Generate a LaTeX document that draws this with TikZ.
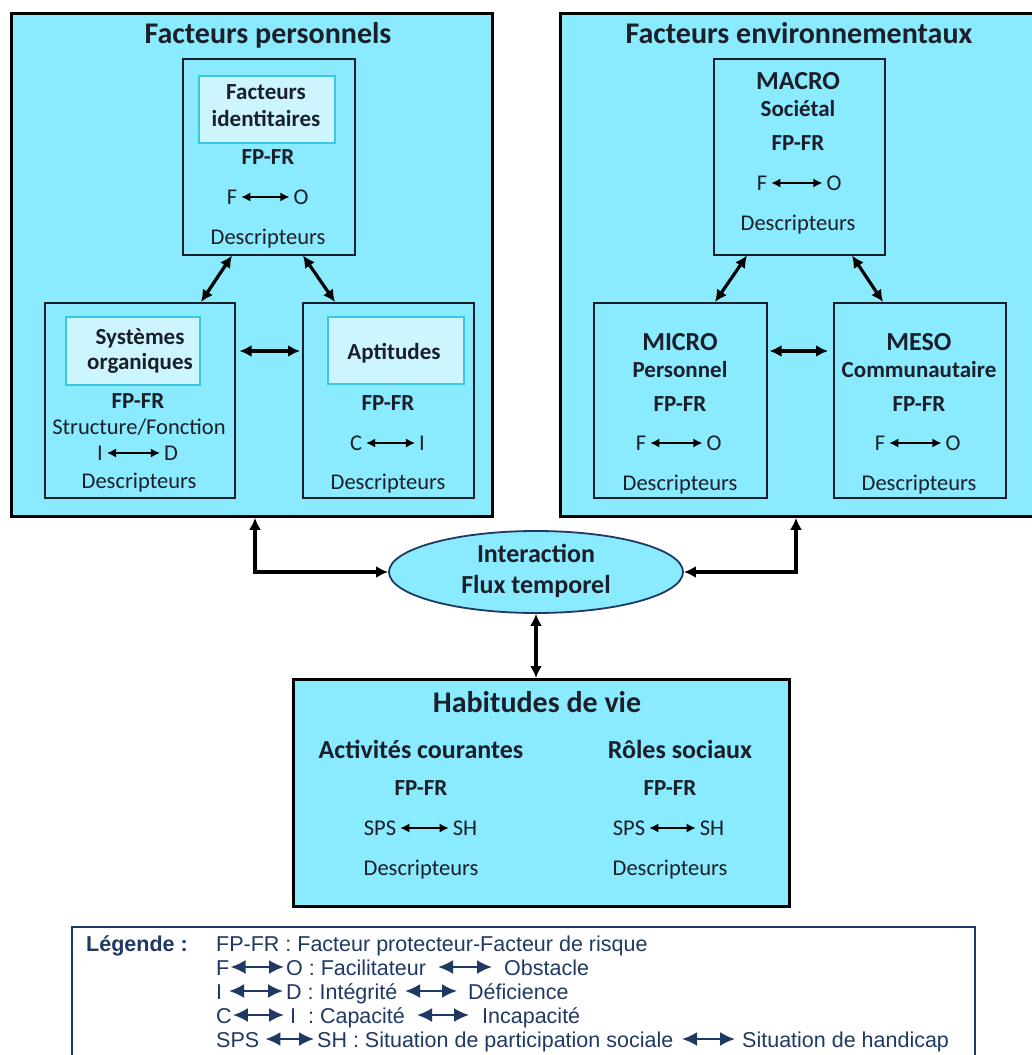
\documentclass[tikz,border=0pt]{standalone}
\usepackage{fontspec}
\setmainfont{Carlito}
\newfontfamily\legfont{Liberation Sans}
\usetikzlibrary{arrows.meta,calc,shadows,shapes.geometric}
\definecolor{cyanfill}{HTML}{8AEAFE}
\definecolor{lightfill}{HTML}{CCF5FE}
\definecolor{lightborder}{HTML}{3CC6E6}
\definecolor{ink}{HTML}{1B1F2A}
\definecolor{navy}{HTML}{1F3864}
\begin{document}
\begin{tikzpicture}[x=1pt,y=-1pt,
 bigbox/.style={draw=black, line width=2.8pt, fill=cyanfill, anchor=north west, inner sep=0pt,
   drop shadow={shadow xshift=2pt,shadow yshift=-2pt,opacity=0.35}},
 subbox/.style={draw=ink, line width=1.5pt, fill=cyanfill, anchor=north west, inner sep=0pt},
 lightbox/.style={draw=lightborder, line width=1.7pt, fill=lightfill, anchor=north west, inner sep=0pt},
 txt/.style={inner sep=0pt, text height=14.5pt, text depth=0pt, text=ink, font=\fontsize{22.5}{27}\selectfont},
 btxt/.style={txt, text height=14.8pt, font=\fontsize{23}{27}\selectfont\bfseries},
 ttl/.style={txt, text height=19.3pt, font=\fontsize{30}{36}\selectfont\bfseries},
 hdr/.style={txt, text height=16.7pt, font=\fontsize{26}{30}\selectfont\bfseries},
 ends/.style={txt, inner xsep=4pt},
 sarr/.style={draw=black, line width=1.4pt, {Latex[length=9pt,width=9pt]}-{Latex[length=9pt,width=9pt]}},
 bigarr/.style={draw=black, line width=3.2pt, {Latex[length=12pt,width=12pt]}-{Latex[length=12pt,width=12pt]}},
 leg/.style={inner sep=0pt, anchor=base west, text=navy, font=\legfont\fontsize{21.5}{24}\selectfont},
 legb/.style={leg, font=\legfont\bfseries\fontsize{21.5}{24}\selectfont},
 legarr/.style={draw=navy, line width=2.2pt, {Latex[length=15pt,width=14pt]}-{Latex[length=15pt,width=14pt]}},
]
\useasboundingbox[fill=white] (0,0) rectangle (1031,1055);

% ---------- big boxes ----------
\node[bigbox, minimum width=481pt, minimum height=503pt] (PF) at (10,12) {};
\node[bigbox, minimum width=482pt, minimum height=503pt] (EF) at (559,12) {};
\node[ttl] (PFt) at (268,34) {Facteurs personnels};
\node[ttl] (EFt) at (799,34) {Facteurs environnementaux};

% ---------- Facteurs identitaires ----------
\node[subbox, minimum width=172pt, minimum height=196pt] (FI) at (182,58) {};
\node[lightbox, minimum width=136pt, minimum height=67pt] (FIl) at (198,75) {};
\node[btxt] (FIa) at (266,92) {Facteurs};
\node[btxt] (FIb) at (266,119) {identitaires};
\node[btxt] (FIc) at (268,157) {FP-FR};
\node[ends] (FIf) at (232,197) {F};
\node[ends] (FIo) at (301,197) {O};
\draw[sarr] (FIf) -- (FIo);
\node[txt] (FId) at (268,237) {Descripteurs};

% ---------- Systemes organiques ----------
\node[subbox, minimum width=190pt, minimum height=195pt] (SO) at (44,302) {};
\node[lightbox, minimum width=134pt, minimum height=68pt] (SOl) at (65,316) {};
\node[btxt] (SOa) at (140,337) {Systèmes};
\node[btxt] (SOb) at (140,362) {organiques};
\node[btxt] (SOc) at (138,401) {FP-FR};
\node[txt] (SOs) at (139,427) {Structure/Fonction};
\node[ends] (SOi) at (100,453) {I};
\node[ends] (SOdd) at (171,453) {D};
\draw[sarr] (SOi) -- (SOdd);
\node[txt] (SOd) at (139,481) {Descripteurs};

% ---------- Aptitudes ----------
\node[subbox, minimum width=171pt, minimum height=195pt] (AP) at (302,302) {};
\node[lightbox, minimum width=136pt, minimum height=67pt] (APl) at (327,316) {};
\node[btxt] (APa) at (394,352) {Aptitudes};
\node[btxt] (APc) at (388,403) {FP-FR};
\node[ends] (APcc) at (356,443) {C};
\node[ends] (APi) at (422,443) {I};
\draw[sarr] (APcc) -- (APi);
\node[txt] (APd) at (388,482) {Descripteurs};

% ---------- MACRO ----------
\node[subbox, minimum width=171pt, minimum height=196pt] (MA) at (713,58) {};
\node[hdr] (MAa) at (798,81) {MACRO};
\node[btxt] (MAb) at (798,109) {Sociétal};
\node[btxt] (MAc) at (798,143) {FP-FR};
\node[ends] (MAf) at (762,183) {F};
\node[ends] (MAo) at (834,183) {O};
\draw[sarr] (MAf) -- (MAo);
\node[txt] (MAd) at (798,223) {Descripteurs};

% ---------- MICRO ----------
\node[subbox, minimum width=173pt, minimum height=195pt] (MI) at (593,302) {};
\node[hdr] (MIa) at (680,342) {MICRO};
\node[btxt] (MIb) at (680,370) {Personnel};
\node[btxt] (MIc) at (680,404) {FP-FR};
\node[ends] (MIf) at (641,443) {F};
\node[ends] (MIo) at (714,443) {O};
\draw[sarr] (MIf) -- (MIo);
\node[txt] (MId) at (680,483) {Descripteurs};

% ---------- MESO ----------
\node[subbox, minimum width=172pt, minimum height=195pt] (ME) at (833,302) {};
\node[hdr] (MEa) at (919,342) {MESO};
\node[btxt] (MEb) at (919,370) {Communautaire};
\node[btxt] (MEc) at (919,404) {FP-FR};
\node[ends] (MEf) at (880,443) {F};
\node[ends] (MEo) at (953,443) {O};
\draw[sarr] (MEf) -- (MEo);
\node[txt] (MEd) at (919,483) {Descripteurs};

% ---------- arrows inside big boxes ----------
\draw[bigarr] ($(FI.south west)+(50,0)$) -- ($(SO.north west)+(157,0)$);
\draw[bigarr] ($(FI.south west)+(121,0)$) -- ($(AP.north west)+(33,0)$);
\draw[bigarr] ($(SO.north east)+(4,49)$) -- ($(AP.north west)+(-2,49)$);
\draw[bigarr] ($(MA.south west)+(34,0)$) -- ($(MI.north west)+(122,0)$);
\draw[bigarr] ($(MA.south west)+(139,0)$) -- ($(ME.north west)+(50,0)$);
\draw[bigarr] ($(MI.north east)+(2,49)$) -- ($(ME.north west)+(-5,49)$);

% ---------- interaction ----------
\node[ellipse, draw=navy, line width=1.8pt, fill=cyanfill, minimum width=294pt, minimum height=82pt, inner sep=0pt] (EL) at (536,572) {};
\node[hdr] (ELa) at (536,554) {Interaction};
\node[hdr] (ELb) at (536,585) {Flux temporel};
\draw[bigarr] ($(PF.south west)+(245,0)$) |- (EL.west);
\draw[bigarr] ($(EF.south west)+(237,0)$) |- (EL.east);

% ---------- Habitudes de vie ----------
\node[bigbox, minimum width=496pt, minimum height=227pt] (HV) at (292,678) {};
\draw[bigarr] (EL.south) -- (EL.south |- HV.north);
\node[ttl] (HVt) at (537,703) {Habitudes de vie};
\node[hdr] (HVa) at (421,750) {Activités courantes};
\node[hdr] (HVb) at (680,750) {Rôles sociaux};
\node[btxt] (HVac) at (421,788) {FP-FR};
\node[btxt] (HVbc) at (670,788) {FP-FR};
\node[ends] (HVas) at (380,828) {SPS};
\node[ends] (HVah) at (465,828) {SH};
\draw[sarr] (HVas) -- (HVah);
\node[ends] (HVbs) at (629,828) {SPS};
\node[ends] (HVbh) at (712,828) {SH};
\draw[sarr] (HVbs) -- (HVbh);
\node[txt] (HVad) at (421,868) {Descripteurs};
\node[txt] (HVbd) at (670,868) {Descripteurs};

% ---------- legend ----------
\node[draw=navy, line width=1.8pt, anchor=north west, minimum width=903pt, minimum height=150pt, inner sep=0pt] (LG) at (71,926) {};
\node[legb] (L0) at (86,951) {Légende :};
\node[leg] (L1) at (216,951) {FP-FR : Facteur protecteur-Facteur de risque};

\node[leg] (L2a) at (216,975) {F};
\node[leg] (L2b) at (286,975) {O : Facilitateur};
\node[leg] (L2c) at (504,975) {Obstacle};
\draw[legarr] ($(L2a.base east)+(1,-8)$) -- ($(L2b.base west)+(-2,-8)$);
\draw[legarr] ($(L2c.base west)+(-66,-8)$) -- ($(L2c.base west)+(-12,-8)$);

\node[leg] (L3a) at (216,999) {I};
\node[leg] (L3b) at (286,999) {D : Intégrité};
\node[leg] (L3c) at (468,999) {Déficience};
\draw[legarr] ($(L3b.base west)+(-57,-8)$) -- ($(L3b.base west)+(-3,-8)$);
\draw[legarr] ($(L3c.base west)+(-63,-8)$) -- ($(L3c.base west)+(-11,-8)$);

\node[leg] (L4a) at (216,1023) {C};
\node[leg] (L4b) at (290,1023) {I\ \ : Capacité};
\node[leg] (L4c) at (482,1023) {Incapacité};
\draw[legarr] ($(L4a.base east)+(1,-8)$) -- ($(L4b.base west)+(-6,-8)$);
\draw[legarr] ($(L4c.base west)+(-65,-8)$) -- ($(L4c.base west)+(-13,-8)$);

\node[leg] (L5a) at (216,1047) {SPS};
\node[leg] (L5b) at (317,1047) {SH : Situation de participation sociale};
\node[leg] (L5c) at (742,1047) {Situation de handicap};
\draw[legarr] ($(L5a.base east)+(6,-8)$) -- ($(L5b.base west)+(-3,-8)$);
\draw[legarr] ($(L5c.base west)+(-60,-8)$) -- ($(L5c.base west)+(-7,-8)$);
\end{tikzpicture}
\end{document}
